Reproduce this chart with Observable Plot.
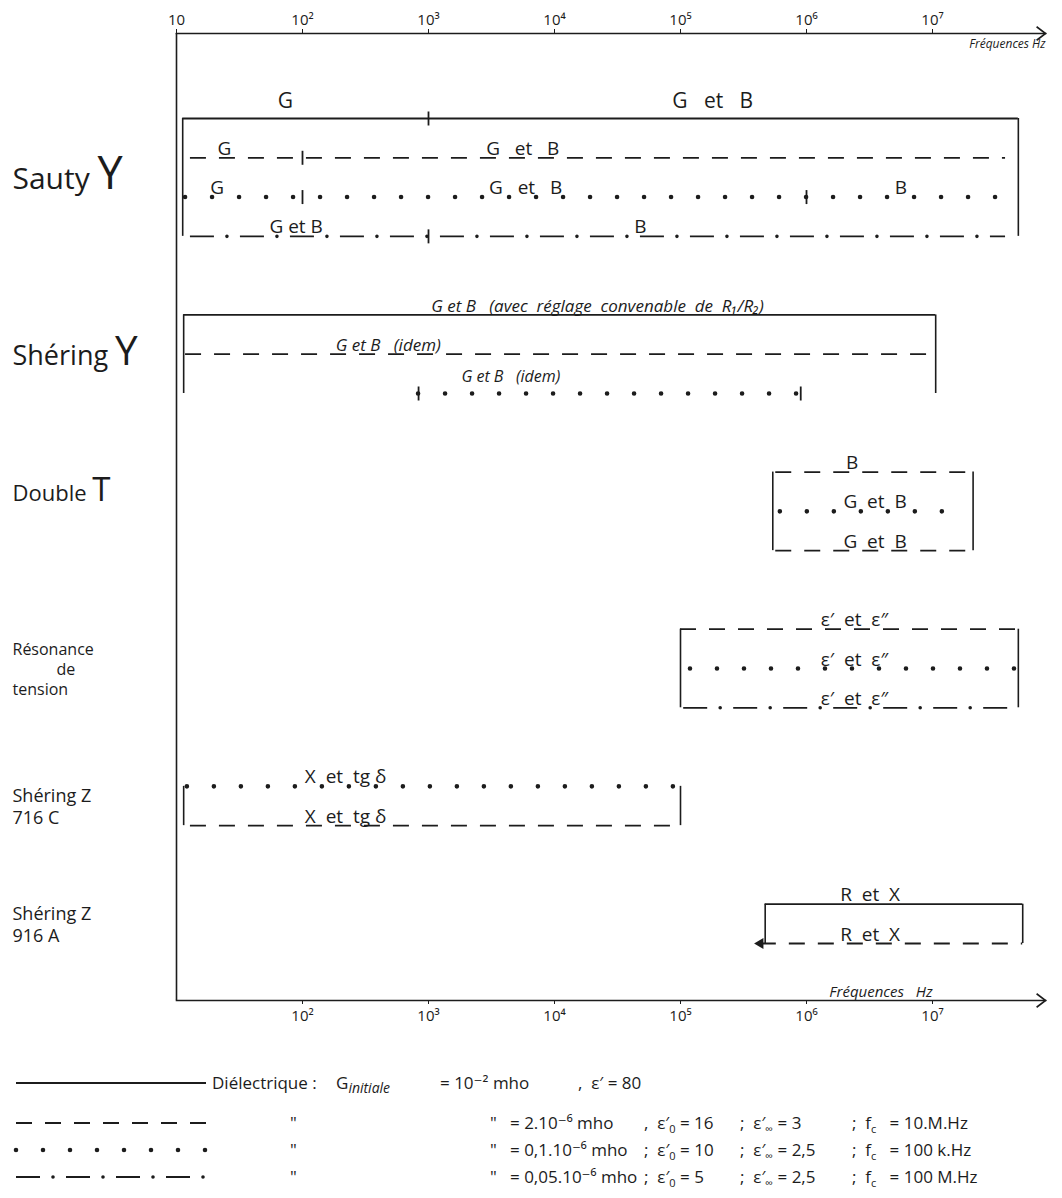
<!DOCTYPE html>
<html lang="fr">
<head>
<meta charset="utf-8">
<title>Domaines de fréquence des méthodes de mesure</title>
<script src="https://cdn.jsdelivr.net/npm/d3@7"></script>
<script src="https://cdn.jsdelivr.net/npm/@observablehq/plot@0.6"></script>
<style>
  html, body { margin: 0; padding: 0; background: #fff; }
  #page { position: relative; width: 1062px; height: 1198px; overflow: hidden; color: #1c1c1c;
          font-family: "Open Sans", "DejaVu Sans", sans-serif; }
  #graphique svg text { white-space: pre; }
  #legende { position: absolute; left: 0; top: 1040px; width: 1062px; height: 158px; font-size: 17px; }
  .ligne { position: absolute; left: 0; width: 1062px; height: 26px; }
  .ligne > span { position: absolute; top: 0; line-height: 26px; white-space: pre; }
  .ligne > svg { position: absolute; top: 7px; }
  sub { font-size: 11px; vertical-align: -4px; line-height: 0; }
  sub.grand { font-size: 14px; }
</style>
</head>
<body>
<div id="page"><div id="graphique"></div><div id="legende"></div></div>
<script>
// ---------------- Données ----------------
// graduations (Hz) et leurs libellés
const ticksHaut = [10, 1e2, 1e3, 1e4, 1e5, 1e6, 1e7];
const libellesHaut = ["10", "10²", "10³", "10⁴", "10⁵", "10⁶", "10⁷"];
const ticksBas = [1e2, 1e3, 1e4, 1e5, 1e6, 1e7];
const libellesBas = ["10²", "10³", "10⁴", "10⁵", "10⁶", "10⁷"];
const extremiteAxe = 7.9e7;           // pointe des flèches des axes (Hz)
const titreAxe = ["Fréquences Hz", "Fréquences   Hz"];
const titreAxeBasF = 3.9e6;

// rangées (ordre de haut en bas ; les « · » sont des intervalles vides)
const rangees = ["sauty-1", "sauty-2", "sauty-3", "sauty-4", "·1",
  "shering-y-1", "shering-y-2", "shering-y-3", "·2",
  "double-t-1", "double-t-2", "double-t-3", "·3",
  "resonance-1", "resonance-2", "resonance-3", "·4",
  "shering-716-1", "shering-716-2", "·5",
  "shering-916-1", "shering-916-2"];

// méthodes (libellés à gauche) et rangées qu'elles couvrent
const methodes = ["Sauty Y", "Shéring Y", "Double T", "Résonance\nde\ntension", "Shéring Z\n716 C", "Shéring Z\n916 A"];
const methodesRangees = [["sauty-2", "sauty-3"], ["shering-y-2"], ["double-t-1", "double-t-2"],
  ["resonance-2"], ["shering-716-1", "shering-716-2"], ["shering-916-1", "shering-916-2"]];

// segments : rangée, diélectrique (type de trait), fréquence de début et de fin (Hz)
const segRangee = ["sauty-1", "sauty-2", "sauty-3", "sauty-4",
  "shering-y-1", "shering-y-2", "shering-y-3",
  "double-t-1", "double-t-2", "double-t-3",
  "resonance-1", "resonance-2", "resonance-3",
  "shering-716-1", "shering-716-2",
  "shering-916-1", "shering-916-2"];
const segSerie = ["continu", "tirets", "points", "mixte",
  "continu", "tirets", "points",
  "tirets", "points", "tirets",
  "tirets", "points", "mixte",
  "points", "tirets",
  "continu", "tirets"];
const segDebut = [11.2, 12.9, 11.8, 12.9,
  11.4, 11.8, 834,
  5.7e5, 6.2e5, 5.7e5,
  1.0e5, 1.2e5, 1.06e5,
  12.2, 12.9,
  4.7e5, 4.3e5];
const segFin = [4.8e7, 3.8e7, 3.8e7, 3.8e7,
  1.06e7, 1.06e7, 9e5,
  2.1e7, 1.8e7, 2.0e7,
  4.8e7, 4.8e7, 4.7e7,
  9.6e4, 9.6e4,
  5.2e7, 5.2e7];

// repères de changement de grandeur mesurée (rangée, fréquence)
const reperesRangee = ["sauty-1", "sauty-2", "sauty-3", "sauty-3", "sauty-4", "shering-y-3", "shering-y-3"];
const reperesF = [1e3, 1e2, 1e2, 1e6, 1e3, 834, 9e5];

// traits verticaux de fermeture (de, à, fréquence)
const crochetsDe = ["sauty-1", "sauty-1", "shering-y-1", "shering-y-1", "double-t-1", "double-t-1",
  "resonance-1", "resonance-1", "shering-716-1", "shering-716-1", "shering-916-1", "shering-916-1"];
const crochetsA = ["sauty-4", "sauty-4", "shering-y-3", "shering-y-3", "double-t-3", "double-t-3",
  "resonance-3", "resonance-3", "shering-716-2", "shering-716-2", "shering-916-2", "shering-916-2"];
const crochetsF = [11.2, 4.8e7, 11.4, 1.06e7, 5.4e5, 2.1e7, 1.0e5, 4.8e7, 11.4, 1.0e5, 4.7e5, 5.2e7];

// flèche gauche de la rangée Shéring Z 916 A
const flecheRangee = ["shering-916-2"];
const flecheF = [4.3e5];

// grandeurs mesurées (rangée, fréquence du centre du texte, texte)
const etqRangee = ["sauty-1", "sauty-1", "sauty-2", "sauty-2", "sauty-3", "sauty-3", "sauty-3", "sauty-4", "sauty-4",
  "shering-y-1", "shering-y-2", "shering-y-3",
  "double-t-1", "double-t-2", "double-t-3",
  "resonance-1", "resonance-2", "resonance-3",
  "shering-716-1", "shering-716-2",
  "shering-916-1", "shering-916-2"];
const etqF = [73, 1.8e5, 24, 5.6e3, 21, 5.9e3, 5.6e6, 89, 4.8e4,
  2.2e4, 480, 4.5e3,
  2.3e6, 3.5e6, 3.5e6,
  2.4e6, 2.4e6, 2.4e6,
  220, 220,
  3.2e6, 3.2e6];
const etqTexte = ["G", "G   et   B", "G", "G   et   B", "G", "G   et   B", "B", "G et B", "B",
  "G et B   (avec  réglage  convenable  de  R₁/R₂)", "G et B   (idem)", "G et B   (idem)",
  "B", "G  et  B", "G  et  B",
  "ε′  et  ε″", "ε′  et  ε″", "ε′  et  ε″",
  "X  et  tg δ", "X  et  tg δ",
  "R  et  X", "R  et  X"];

// légende
const legSerie = ["continu", "tirets", "points", "mixte"];
const legG = ["10⁻² mho", "2.10⁻⁶ mho", "0,1.10⁻⁶ mho", "0,05.10⁻⁶ mho"];
const legSep = [",", ",", ";", ";"];
const legEps0 = ["80", "16", "10", "5"];
const legEpsInf = [null, "3", "2,5", "2,5"];
const legFc = [null, "10.M.Hz", "100 k.Hz", "100 M.Hz"];

// ---------------- Tables ----------------
const segments = segRangee.map((r, i) => ({rangee: r, serie: segSerie[i], debut: segDebut[i], fin: segFin[i]}));
const reperes = reperesRangee.map((r, i) => ({rangee: r, f: reperesF[i]}));
const crochets = crochetsDe.map((r, i) => ({de: r, a: crochetsA[i], f: crochetsF[i]}));
const fleches = flecheRangee.map((r, i) => ({rangee: r, f: flecheF[i]}));
const etiquettes = etqRangee.map((r, i) => ({rangee: r, f: etqF[i], texte: etqTexte[i]}));
const idx = r => rangees.indexOf(r);

// ---------------- Styles ----------------
const encre = "#1c1c1c";
const STYLES = {
  continu: [{strokeWidth: 1.8}],
  tirets: [{strokeWidth: 1.8, strokeDasharray: "16 13"}],
  points: [{strokeWidth: 4.6, strokeDasharray: "0 27", strokeLinecap: "round"}],
  mixte: [{strokeWidth: 1.8, strokeDasharray: "24 26"},
          {strokeWidth: 3.6, strokeDasharray: "0 50", strokeDashoffset: -37, strokeLinecap: "round"}]
};
const chevron = {draw(c, size) { const s = Math.sqrt(size / Math.PI); c.moveTo(-s, -0.75 * s); c.lineTo(0, 0); c.lineTo(-s, 0.75 * s); }};
const barre = {draw(c, size) { const s = Math.sqrt(size / Math.PI); c.moveTo(0, -s); c.lineTo(0, s); }};

// ---------------- Marques ----------------
const marques = [
  Plot.frame({anchor: "top", stroke: encre, strokeWidth: 1.6}),
  Plot.frame({anchor: "bottom", stroke: encre, strokeWidth: 1.6}),
  Plot.ruleX([ticksHaut[0]], {stroke: encre, strokeWidth: 1.6}),
  Plot.dot([extremiteAxe], {x: d => d, frameAnchor: "top", symbol: chevron, r: 9, stroke: encre, fill: "none", strokeWidth: 1.6}),
  Plot.dot([extremiteAxe], {x: d => d, frameAnchor: "bottom", symbol: chevron, r: 9, stroke: encre, fill: "none", strokeWidth: 1.6}),
  Plot.axisX({anchor: "top", ticks: ticksHaut, tickFormat: d => libellesHaut[ticksHaut.indexOf(d)],
    tickSize: 5, tickPadding: 4, fontSize: 15, label: null, stroke: encre}),
  Plot.axisX({anchor: "bottom", ticks: ticksBas, tickFormat: d => libellesBas[ticksBas.indexOf(d)],
    tickSize: 4, tickPadding: 6, fontSize: 15, label: null, stroke: encre}),
  Plot.text([titreAxe[0]], {x: () => extremiteAxe, frameAnchor: "top", text: d => d, textAnchor: "end",
    lineAnchor: "top", dy: 6, fontSize: 12, fontStyle: "italic"}),
  Plot.text([titreAxe[1]], {x: () => titreAxeBasF, frameAnchor: "bottom", text: d => d,
    lineAnchor: "bottom", dy: -4, fontSize: 15, fontStyle: "italic"})
];

for (const serie of ["continu", "tirets", "points", "mixte"]) {
  for (const couche of STYLES[serie]) {
    marques.push(Plot.ruleY(segments.filter(d => d.serie === serie),
      {y: d => idx(d.rangee), x1: "debut", x2: "fin", stroke: encre, ...couche}));
  }
}

marques.push(
  Plot.ruleX(crochets, {x: "f", y1: d => idx(d.de), y2: d => idx(d.a), stroke: encre, strokeWidth: 1.6}),
  Plot.dot(reperes, {x: "f", y: d => idx(d.rangee), symbol: barre, r: 7, stroke: encre, strokeWidth: 1.8}),
  Plot.dot(fleches, {x: "f", y: d => idx(d.rangee), symbol: "triangle", rotate: -90, r: 4, fill: encre}),
  // grandeurs mesurées
  Plot.text(etiquettes.filter(d => !d.rangee.startsWith("shering-y") && d.rangee !== "sauty-1"),
    {x: "f", y: d => idx(d.rangee), text: "texte", lineAnchor: "bottom", dy: -3, fontSize: 19}),
  Plot.text(etiquettes.filter(d => d.rangee === "sauty-1"),
    {x: "f", y: d => idx(d.rangee), text: "texte", lineAnchor: "bottom", dy: -11, fontSize: 21}),
  Plot.text(etiquettes.filter(d => d.rangee === "shering-y-1" || d.rangee === "shering-y-2"),
    {x: "f", y: d => idx(d.rangee), text: "texte", lineAnchor: "bottom", dy: -3, fontSize: 17, fontStyle: "italic"}),
  Plot.text(etiquettes.filter(d => d.rangee === "shering-y-3"),
    {x: "f", y: d => idx(d.rangee), text: "texte", lineAnchor: "bottom", dy: -12, fontSize: 16, fontStyle: "italic"}),
  // noms des méthodes
  Plot.text(methodes, {
    y: (d, i) => d3.mean(methodesRangees[i], idx),
    frameAnchor: "left", textAnchor: "start", dx: -164, text: d => d,
    fontSize: (d, i) => [30, 27, 22, 16, 18, 18][i], lineHeight: 1.25
  })
);

const svg = Plot.plot({
  width: 1062, height: 1040,
  marginTop: 33, marginBottom: 40, marginLeft: 176, marginRight: 17,
  style: {fontFamily: "'Open Sans', 'DejaVu Sans', sans-serif", fontSize: "14px", color: encre, background: "#fff", overflow: "visible"},
  x: {type: "log", domain: [10, 1e8], range: [176, 1058], axis: null},
  y: {type: "linear", domain: [0, rangees.length - 1], range: [118, 943], axis: null},
  marks: marques
});

// grande lettre finale des noms de méthode, « de » centré
d3.select(svg).selectAll("text").each(function () {
  const m = /^(Sauty|Shéring|Double) ([YT])$/.exec(this.textContent);
  if (m) {
    const fs = parseFloat(this.getAttribute("font-size")) || 24;
    const t = d3.select(this);
    t.text(null);
    t.append("tspan").text(m[1] + " ");
    t.append("tspan").attr("font-size", fs * 1.5).text(m[2]);
  }
});
d3.select(svg).selectAll("tspan").filter(function () { return this.textContent === "de"; })
  .attr("x", function () { return (parseFloat(this.getAttribute("x")) || 0) + 44; });

document.getElementById("graphique").appendChild(svg);

// ---------------- Légende ----------------
const leg = d3.select("#legende");
const hauts = [30, 70, 97, 124];
legSerie.forEach((serie, i) => {
  const row = leg.append("div").attr("class", "ligne").style("top", hauts[i] + "px");
  const sw = row.append("svg").attr("width", 200).attr("height", 12).style("left", "12px");
  for (const c of STYLES[serie]) {
    sw.append("line").attr("x1", 4).attr("x2", 194).attr("y1", 6).attr("y2", 6)
      .attr("stroke", encre).attr("stroke-width", c.strokeWidth)
      .attr("stroke-dasharray", c.strokeDasharray || null)
      .attr("stroke-dashoffset", c.strokeDashoffset || null)
      .attr("stroke-linecap", c.strokeLinecap || null);
  }
  const span = (left, html) => row.append("span").style("left", left + "px").html(html);
  if (i === 0) {
    span(212, "Diélectrique :");
    span(336, "G<sub class=\"grand\"><i>initiale</i></sub>");
    span(440, "= " + legG[i]);
    span(578, legSep[i] + "  ε′ = " + legEps0[i]);
  } else {
    span(290, "\"");
    span(490, "\"");
    span(510, "= " + legG[i]);
    span(644, legSep[i] + "  ε′<sub>0</sub> = " + legEps0[i]);
    span(740, ";  ε′<sub>∞</sub> = " + legEpsInf[i]);
    span(852, ";  f<sub>c</sub>   = " + legFc[i]);
  }
});
</script>
</body>
</html>
